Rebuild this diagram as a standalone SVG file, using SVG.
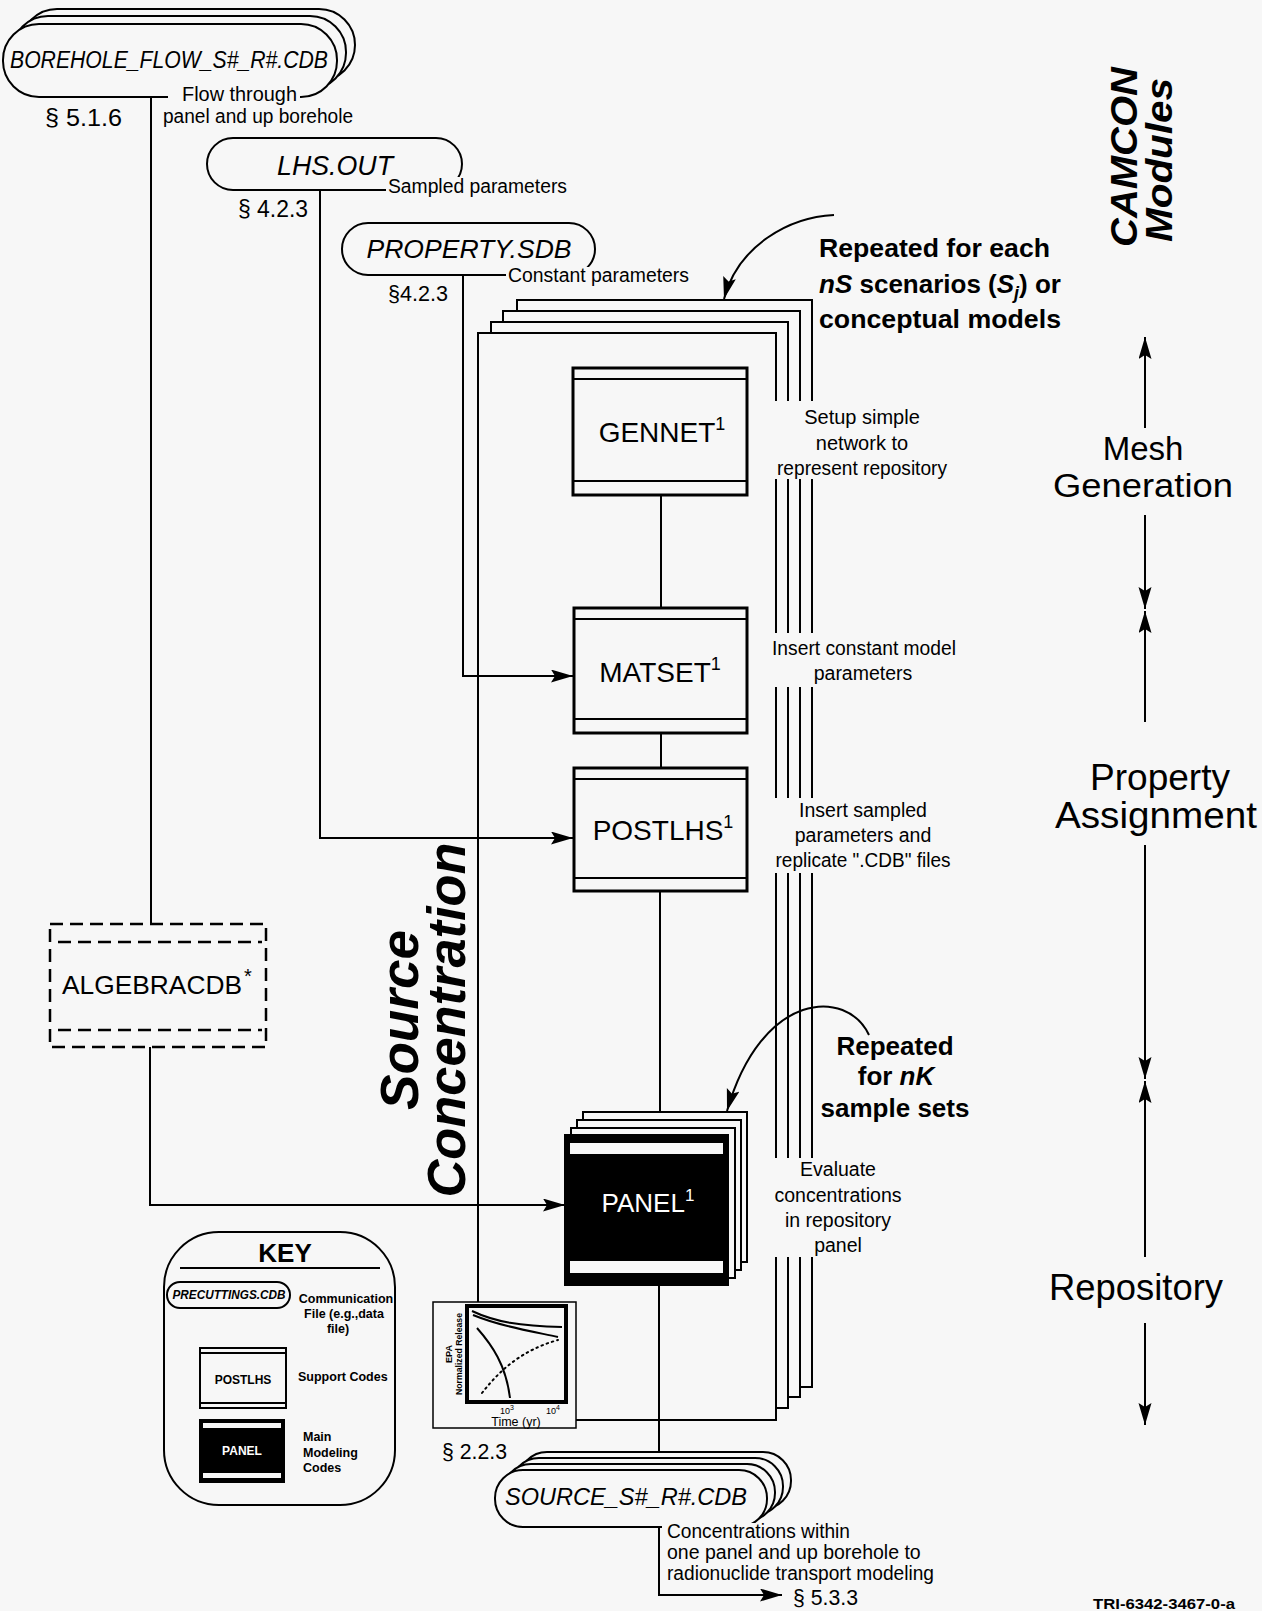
<svg xmlns="http://www.w3.org/2000/svg" width="1262" height="1611" viewBox="0 0 1262 1611">
<defs>
<marker id="ah" markerUnits="userSpaceOnUse" markerWidth="24" markerHeight="14" refX="22" refY="6.5" orient="auto"><path d="M0,0 L22,6.5 L0,13 L4,6.5 z" fill="#000"/></marker>
<style>
text{font-family:"Liberation Sans",Arial,Helvetica,sans-serif;fill:#000}
.ln{fill:none;stroke:#000;stroke-width:2}
.bg{fill:#f7f7f7}
.fr{fill:#f7f7f7;stroke:#000;stroke-width:2}
.nd{fill:#f7f7f7;stroke:#000;stroke-width:3}
.pill{fill:#f7f7f7;stroke:#000;stroke-width:2}
.it{font-style:italic}
.b{font-weight:bold}
.lbl{font-size:19.5px}
.sec{font-size:22px}
.nm{font-size:28px}
.side{font-size:36px;text-anchor:middle}
.rep{font-size:26px;font-weight:bold}
.key{font-size:12.5px;font-weight:bold}
.mid{text-anchor:middle}
.dash{fill:none;stroke:#000;stroke-width:2.5;stroke-dasharray:13 7}
</style>
</defs>
<rect x="0" y="0" width="1262" height="1611" class="bg"/>

<!-- scenario stack (repeated for each nS) -->
<g id="scenario-stack">
<rect class="fr" x="517" y="300" width="295" height="1087"/>
<rect class="fr" x="503" y="311" width="297" height="1086"/>
<rect class="fr" x="491" y="322" width="297" height="1086"/>
<rect class="fr" x="478" y="333" width="298" height="1087"/>
<rect class="bg" x="768" y="401" width="185" height="78"/>
<rect class="bg" x="768" y="633" width="192" height="54"/>
<rect class="bg" x="768" y="798" width="188" height="75"/>
<rect class="bg" x="768" y="1158" width="140" height="99"/>
<g class="lbl mid">
<text x="862" y="424" font-size="20">Setup simple</text>
<text x="862" y="450" font-size="20">network to</text>
<text x="862" y="475" font-size="20" textLength="170" lengthAdjust="spacingAndGlyphs">represent repository</text>
<text x="864" y="655" textLength="184" lengthAdjust="spacingAndGlyphs">Insert constant model</text>
<text x="863" y="680">parameters</text>
<text x="863" y="817">Insert sampled</text>
<text x="863" y="842">parameters and</text>
<text x="863" y="867" textLength="175" lengthAdjust="spacingAndGlyphs">replicate ".CDB" files</text>
<text x="838" y="1176">Evaluate</text>
<text x="838" y="1202" textLength="127" lengthAdjust="spacingAndGlyphs">concentrations</text>
<text x="838" y="1227">in repository</text>
<text x="838" y="1252">panel</text>
</g>
</g>

<!-- connectors -->
<g id="connectors" class="ln">
<path d="M151,97 V924"/>
<path d="M150,1047 V1205 H565" marker-end="url(#ah)"/>
<path d="M320,190 V838 H573" marker-end="url(#ah)"/>
<path d="M463,275 V676 H573" marker-end="url(#ah)"/>
<path d="M661,495 V608"/>
<path d="M661,733 V768"/>
<path d="M660,891 V1112"/>
<path d="M659,1285 V1452"/>
<path d="M659,1527 V1595 H782" marker-end="url(#ah)"/>
<path d="M834,215 C 790,217 738,245 724,299" marker-end="url(#ah)"/>
<path d="M869,1035 C 847,988 762,990 727,1111" marker-end="url(#ah)"/>
</g>

<!-- communication files -->
<g id="borehole-flow">
<rect class="pill" x="21" y="9" width="334" height="72" rx="36"/>
<rect class="pill" x="12" y="16" width="334" height="73" rx="36"/>
<rect class="pill" x="3" y="24" width="334" height="73" rx="36"/>
<text x="169" y="68" class="it mid" font-size="23" textLength="318" lengthAdjust="spacingAndGlyphs">BOREHOLE_FLOW_S#_R#.CDB</text>
<rect class="bg" x="168" y="84" width="132" height="20"/>
<text x="182" y="101" class="lbl" textLength="115" lengthAdjust="spacingAndGlyphs">Flow  through</text>
<text x="163" y="123" class="lbl" textLength="190" lengthAdjust="spacingAndGlyphs">panel and up borehole</text>
<text x="45" y="126" font-size="23" textLength="77" lengthAdjust="spacingAndGlyphs">§ 5.1.6</text>
</g>

<g id="lhs-out">
<rect class="pill" x="207" y="138" width="255" height="52" rx="26"/>
<text x="335" y="175" class="it mid" font-size="27" textLength="116" lengthAdjust="spacingAndGlyphs">LHS.OUT</text>
<rect class="bg" x="386" y="177" width="185" height="20"/>
<text x="388" y="193" class="lbl" textLength="179" lengthAdjust="spacingAndGlyphs">Sampled parameters</text>
<text x="238" y="217" font-size="23" textLength="70" lengthAdjust="spacingAndGlyphs">§ 4.2.3</text>
</g>

<g id="property-sdb">
<rect class="pill" x="342" y="223" width="253" height="52" rx="26"/>
<text x="469" y="258" class="it mid" font-size="26" textLength="205" lengthAdjust="spacingAndGlyphs">PROPERTY.SDB</text>
<rect class="bg" x="506" y="267" width="187" height="20"/>
<text x="508" y="282" class="lbl" textLength="181" lengthAdjust="spacingAndGlyphs">Constant parameters</text>
<text x="388" y="301" font-size="22" textLength="60" lengthAdjust="spacingAndGlyphs">§4.2.3</text>
</g>

<!-- codes -->
<g id="gennet">
<rect class="nd" x="573" y="368" width="174" height="127"/>
<path class="ln" stroke-width="3" d="M573,379 H747 M573,481 H747"/>
<text x="662" y="442" class="nm mid">GENNET<tspan font-size="18" dy="-12">1</tspan></text>
</g>

<g id="matset">
<rect class="nd" x="574" y="608" width="173" height="125"/>
<path class="ln" stroke-width="3" d="M574,619 H747 M574,719 H747"/>
<text x="660" y="682" class="nm mid">MATSET<tspan font-size="18" dy="-12">1</tspan></text>
</g>

<g id="postlhs">
<rect class="nd" x="574" y="768" width="173" height="123"/>
<path class="ln" stroke-width="3" d="M574,779 H747 M574,878 H747"/>
<text x="663" y="840" class="nm mid">POSTLHS<tspan font-size="18" dy="-12">1</tspan></text>
</g>

<g id="algebracdb">
<rect class="dash" x="50" y="924" width="216" height="123"/>
<path class="dash" d="M58,942 H262 M58,1030 H262"/>
<text x="62" y="994" font-size="26" textLength="180" lengthAdjust="spacingAndGlyphs">ALGEBRACDB</text>
<text x="244" y="983" font-size="20">*</text>
</g>

<g id="panel">
<rect class="fr" x="583" y="1112" width="164" height="150"/>
<rect class="fr" x="577" y="1120" width="164" height="150"/>
<rect class="fr" x="571" y="1128" width="164" height="150"/>
<rect x="565" y="1135" width="163" height="150" fill="#000" stroke="#000" stroke-width="2"/>
<rect x="570" y="1143" width="153" height="11" fill="#f7f7f7"/>
<rect x="570" y="1261" width="153" height="12" fill="#f7f7f7"/>
<text x="648" y="1212" font-size="26" class="mid" style="fill:#fff">PANEL<tspan font-size="17" dy="-11">1</tspan></text>
</g>

<g id="source-cdb">
<rect class="pill" x="519" y="1452" width="272" height="57" rx="28"/>
<rect class="pill" x="511" y="1458" width="272" height="57" rx="28"/>
<rect class="pill" x="503" y="1464" width="272" height="57" rx="28"/>
<rect class="pill" x="495" y="1470" width="272" height="57" rx="28"/>
<text x="626" y="1505" class="it mid" font-size="24" textLength="242" lengthAdjust="spacingAndGlyphs">SOURCE_S#_R#.CDB</text>
<rect class="bg" x="662" y="1523" width="275" height="62"/>
<text x="667" y="1538" class="lbl" textLength="183" lengthAdjust="spacingAndGlyphs">Concentrations within</text>
<text x="667" y="1559" class="lbl">one panel and up borehole to</text>
<text x="667" y="1580" class="lbl" textLength="267" lengthAdjust="spacingAndGlyphs">radionuclide transport modeling</text>
<text x="793" y="1605" font-size="22" textLength="65" lengthAdjust="spacingAndGlyphs">§ 5.3.3</text>
</g>

<g id="epa-chart">
<rect x="433" y="1302" width="143" height="126" fill="#f7f7f7" stroke="#000" stroke-width="1.5"/>
<rect x="467" y="1306" width="99" height="96" fill="none" stroke="#000" stroke-width="4"/>
<path class="ln" stroke-width="1.5" d="M472,1311 C 495,1322 520,1326 562,1327"/>
<path class="ln" stroke-width="1.5" d="M473,1315 C 500,1326 530,1331 558,1337"/>
<path class="ln" stroke-width="1.2" d="M477,1328 C 492,1345 506,1365 510,1398"/>
<path class="ln" stroke-width="2.5" stroke-dasharray="1.5 4" stroke-linecap="round" d="M482,1393 C 500,1370 522,1350 558,1340"/>
<text transform="translate(452,1354) rotate(-90)" class="mid b" font-size="9">EPA</text>
<text transform="translate(462,1354) rotate(-90)" class="mid b" font-size="8.5" textLength="82" lengthAdjust="spacingAndGlyphs">Normalized Release</text>
<text x="500" y="1414" font-size="9">10<tspan dy="-4" font-size="7">3</tspan></text>
<text x="546" y="1414" font-size="9">10<tspan dy="-4" font-size="7">4</tspan></text>
<text x="516" y="1426" class="mid" font-size="12.5">Time  (yr)</text>
<text x="442" y="1459" font-size="22" textLength="65" lengthAdjust="spacingAndGlyphs">§ 2.2.3</text>
</g>

<!-- key -->
<g id="key">
<rect class="fr" x="164" y="1232" width="231" height="273" rx="55"/>
<text x="285" y="1262" class="b mid" font-size="26">KEY</text>
<path class="ln" d="M180,1268 H380"/>
<rect class="pill" x="167" y="1282" width="123" height="26" rx="13"/>
<text x="229" y="1299" class="b it mid" font-size="12" textLength="113" lengthAdjust="spacingAndGlyphs">PRECUTTINGS.CDB</text>
<text x="346" y="1303" class="key mid">Communication</text>
<text x="344" y="1318" class="key mid">File (e.g.,data</text>
<text x="338" y="1333" class="key mid">file)</text>
<rect class="fr" x="200" y="1348" width="86" height="60"/>
<path class="ln" stroke-width="1.5" d="M200,1353 H286 M200,1403 H286"/>
<text x="243" y="1384" class="b mid" font-size="12">POSTLHS</text>
<text x="298" y="1381" class="key">Support Codes</text>
<rect x="199" y="1419" width="86" height="64" fill="#000"/>
<rect x="203" y="1423" width="78" height="5" fill="#f7f7f7"/>
<rect x="203" y="1473" width="78" height="5" fill="#f7f7f7"/>
<text x="242" y="1455" class="b mid" font-size="12" style="fill:#fff">PANEL</text>
<text x="303" y="1441" class="key">Main</text>
<text x="303" y="1457" class="key">Modeling</text>
<text x="303" y="1472" class="key">Codes</text>
</g>

<!-- annotations -->
<g id="annotations">
<text x="819" y="257" class="rep" textLength="231" lengthAdjust="spacingAndGlyphs">Repeated for each</text>
<text x="819" y="293" class="rep"><tspan font-style="italic">nS</tspan> scenarios (<tspan font-style="italic">S</tspan><tspan font-style="italic" font-size="18" dy="6">j</tspan><tspan dy="-6">) or</tspan></text>
<text x="819" y="328" class="rep" textLength="242" lengthAdjust="spacingAndGlyphs">conceptual models</text>
<text x="895" y="1055" class="rep mid">Repeated</text>
<text x="896" y="1085" class="rep mid">for <tspan font-style="italic">nK</tspan></text>
<text x="895" y="1117" class="rep mid">sample sets</text>
<text transform="translate(418,1020) rotate(-90)" class="b it mid" font-size="54" textLength="180" lengthAdjust="spacingAndGlyphs">Source</text>
<text transform="translate(465,1020) rotate(-90)" class="b it mid" font-size="54" textLength="355" lengthAdjust="spacingAndGlyphs">Concentration</text>
<text transform="translate(1137,157) rotate(-90)" class="b it mid" font-size="36" textLength="180" lengthAdjust="spacingAndGlyphs">CAMCON</text>
<text transform="translate(1172,160) rotate(-90)" class="b it mid" font-size="36" textLength="164" lengthAdjust="spacingAndGlyphs">Modules</text>
<text x="1093" y="1609" class="b" font-size="15" textLength="142" lengthAdjust="spacingAndGlyphs">TRI-6342-3467-0-a</text>
</g>

<g id="module-scale">
<g class="ln">
<path d="M1145,428 V337" marker-end="url(#ah)"/>
<path d="M1145,515 V609" marker-end="url(#ah)"/>
<path d="M1145,722 V611" marker-end="url(#ah)"/>
<path d="M1145,845 V1079" marker-end="url(#ah)"/>
<path d="M1145,1257 V1081" marker-end="url(#ah)"/>
<path d="M1145,1323 V1425" marker-end="url(#ah)"/>
</g>
<text x="1143" y="460" class="side" font-size="33" style="font-size:33px">Mesh</text>
<text x="1143" y="497" class="side" style="font-size:33px" textLength="180" lengthAdjust="spacingAndGlyphs">Generation</text>
<text x="1160" y="790" class="side" textLength="140" lengthAdjust="spacingAndGlyphs">Property</text>
<text x="1156" y="828" class="side" textLength="202" lengthAdjust="spacingAndGlyphs">Assignment</text>
<text x="1136" y="1300" class="side" textLength="174" lengthAdjust="spacingAndGlyphs">Repository</text>
</g>
</svg>
